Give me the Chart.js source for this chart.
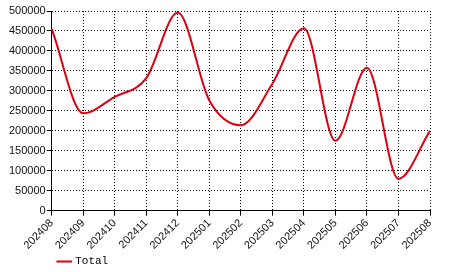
<!DOCTYPE html>
<html>
<head>
<meta charset="utf-8">
<script src="https://cdn.jsdelivr.net/npm/chart.js@4/dist/chart.umd.min.js"></script>
<style>
  html, body { margin: 0; padding: 0; background: #fff; }
  #wrap { width: 466px; height: 272px; }
</style>
</head>
<body>
<div id="wrap"><canvas id="c"></canvas></div>
<script>
const months = ['202408', '202409', '202410', '202411', '202412', '202501', '202502',
                '202503', '202504', '202505', '202506', '202507', '202508'];
const totals = [455000, 244000, 285000, 332000, 496000, 276000, 214000,
                318000, 457000, 175000, 358000, 80000, 200000];
const yTicks = [0, 50000, 100000, 150000, 200000, 250000, 300000, 350000, 400000, 450000, 500000];

const ctx = document.getElementById('c');
new Chart(ctx, {
    type: 'line',
    data: {
        labels: months,
        datasets: [{
            label: 'Total',
            data: totals,
            borderColor: '#dd0011',
            backgroundColor: '#dd0011',
            borderWidth: 2,
            pointRadius: 0,
            cubicInterpolationMode: 'monotone',
            fill: false
        }]
    },
    options: {
        responsive: true,
        maintainAspectRatio: false,
        animation: false,
        layout: { padding: { top: 11, right: 36, left: 8, bottom: -5 } },
        plugins: {
            tooltip: { enabled: false },
            legend: {
                position: 'bottom',
                align: 'start',
                fullSize: false,
                labels: {
                    usePointStyle: true,
                    pointStyle: 'line',
                    boxWidth: 16,
                    padding: 7,
                    color: '#000',
                    font: { family: 'Liberation Mono', size: 11 }
                }
            }
        },
        scales: {
            x: {
                offset: false,
                afterFit: (axis) => { axis.height -= 4; },
                border: { display: true, color: '#000', width: 1, dash: [1, 2] },
                grid: {
                    color: '#000',
                    tickColor: '#000',
                    tickLength: 5,
                    tickBorderDash: []
                },
                ticks: {
                    color: '#111',
                    maxRotation: 45,
                    minRotation: 45,
                    autoSkip: false,
                    padding: 1,
                    font: { family: 'Liberation Sans', size: 11 }
                }
            },
            y: {
                min: 0,
                max: 500000,
                afterBuildTicks: (axis) => { axis.ticks = yTicks.map(v => ({ value: v })); },
                border: { display: true, color: '#000', width: 1, dash: [1, 2] },
                grid: {
                    color: '#000',
                    tickColor: '#000',
                    tickLength: 5,
                    tickBorderDash: []
                },
                ticks: {
                    color: '#111',
                    padding: 1,
                    callback: (v) => String(v),
                    font: { family: 'Liberation Sans', size: 11 }
                }
            }
        }
    }
});
</script>
</body>
</html>
